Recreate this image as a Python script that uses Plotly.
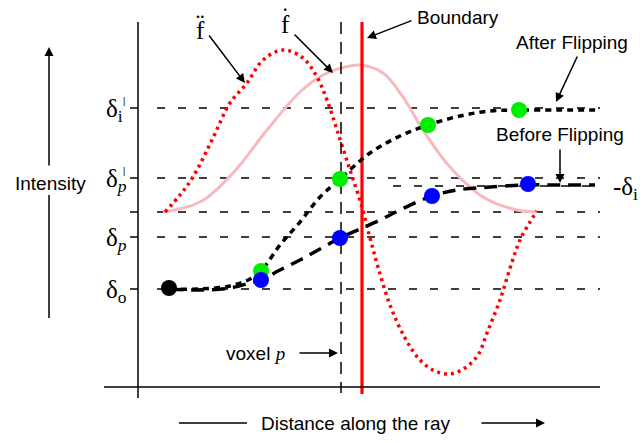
import plotly.graph_objects as go

# ---- data (x = distance along ray, y = intensity in picture units, y grows downward) ----
pink_x = [163, 200, 233, 267, 300, 323, 345, 360, 383, 403, 423, 450, 483, 517, 537]
pink_y = [212, 202, 173, 130, 92, 75, 67, 65, 73, 97, 130, 167, 197, 210, 212]

red_x = [165, 180, 193, 212, 230, 247, 263, 283, 303, 317, 327, 337, 350, 362, 370, 378, 390, 405,
         420, 435, 450, 465, 478, 487, 500, 512, 520, 530, 537]
red_y = [212, 195, 177, 140, 103, 83, 60, 50, 58, 77, 100, 130, 170, 207, 238, 267, 305, 338,
         360, 371, 374, 368, 355, 333, 300, 262, 240, 222, 211]

before_x = [170, 200, 230, 250, 261, 280, 300, 320, 340, 360, 380, 400, 432, 457, 490, 528, 560, 595]
before_y = [289, 290, 288, 283, 280, 270, 260, 249, 238, 229, 220, 210, 196, 190, 187, 185, 185, 185]

after_x = [170, 200, 230, 250, 261, 280, 300, 320, 340, 370, 400, 428, 460, 490, 519, 560, 600]
after_y = [289, 289, 286, 279, 271, 245, 222, 197, 179, 153, 136, 125, 116, 111, 110, 110, 110]

green_x = [261, 340, 428, 519]
green_y = [271, 179, 125, 110]
blue_x = [261, 340, 432, 528]
blue_y = [280, 238, 196, 184]
black_x = [169]
black_y = [288]

level_y = [108, 178, 212, 237, 289]
level_labels = ["δ<sub>i</sub>", "δ<sub><i>p</i></sub>", "", "δ<sub><i>p</i></sub>", "δ<sub>o</sub>"]
level_primed = [True, True, False, False, False]
delta_i_y = 186

voxel_x = 341
boundary_x = 362

SANS = "Liberation Sans"
SERIF = "Liberation Serif"

fig = go.Figure()

# horizontal dashed guide lines
for ly in level_y:
    fig.add_trace(go.Scatter(x=[157, 600], y=[ly, ly], mode="lines",
                             line=dict(color="black", width=1.3, dash="8px,13px"), hoverinfo="skip"))
fig.add_trace(go.Scatter(x=[393, 600], y=[delta_i_y, delta_i_y], mode="lines",
                         line=dict(color="black", width=1.3, dash="8px,13px"), hoverinfo="skip"))

# ticks on intensity axis
for ly in level_y:
    fig.add_trace(go.Scatter(x=[130, 138], y=[ly, ly], mode="lines",
                             line=dict(color="black", width=1.5), hoverinfo="skip"))

# first derivative (pink) and second derivative (red dotted)
fig.add_trace(go.Scatter(x=pink_x, y=pink_y, mode="lines", line=dict(color="#f8b9bb", width=3, shape="spline"),
                         hoverinfo="skip"))
fig.add_trace(go.Scatter(x=red_x, y=red_y, mode="lines",
                         line=dict(color="#ff0000", width=3.5, dash="3px,4px", shape="spline"), hoverinfo="skip"))

# voxel p dashed vertical and boundary line
fig.add_trace(go.Scatter(x=[voxel_x, voxel_x], y=[22, 393], mode="lines",
                         line=dict(color="black", width=1.5, dash="12px,8px"), hoverinfo="skip"))
fig.add_trace(go.Scatter(x=[boundary_x, boundary_x], y=[22, 394], mode="lines",
                         line=dict(color="#ff0000", width=3.2), hoverinfo="skip"))

# before / after flipping profiles
fig.add_trace(go.Scatter(x=before_x, y=before_y, mode="lines",
                         line=dict(color="black", width=3.5, dash="13px,8px", shape="spline"), hoverinfo="skip"))
fig.add_trace(go.Scatter(x=after_x, y=after_y, mode="lines",
                         line=dict(color="black", width=3.5, dash="6px,5px", shape="spline"), hoverinfo="skip"))

# sample dots
fig.add_trace(go.Scatter(x=green_x, y=green_y, mode="markers", marker=dict(color="#00ee00", size=16), hoverinfo="skip"))
fig.add_trace(go.Scatter(x=blue_x, y=blue_y, mode="markers", marker=dict(color="#0000ff", size=16), hoverinfo="skip"))
fig.add_trace(go.Scatter(x=black_x, y=black_y, mode="markers", marker=dict(color="black", size=16), hoverinfo="skip"))

# axes lines
shapes = [
    dict(type="line", xref="x", yref="y", x0=138, x1=138, y0=22, y1=398, line=dict(color="black", width=1.5)),
    dict(type="line", xref="x", yref="y", x0=104, x1=600, y0=387, y1=387, line=dict(color="black", width=1.5)),
    dict(type="line", xref="x", yref="y", x0=49, x1=49, y0=318, y1=195, line=dict(color="black", width=1.5)),
    dict(type="line", xref="x", yref="y", x0=179, x1=247, y0=423, y1=423, line=dict(color="black", width=1.5)),
]

ann = []


def arrow(tx, ty, hx, hy):
    ann.append(dict(x=hx, y=hy, ax=tx, ay=ty, xref="x", yref="y", axref="x", ayref="y", text="",
                    showarrow=True, arrowhead=2, arrowsize=1.2, arrowwidth=1.5, arrowcolor="black",
                    standoff=0, startstandoff=0))


def text(x, y, s, size=19, family=SANS, xanchor="center"):
    ann.append(dict(x=x, y=y, xref="x", yref="y", text=s, showarrow=False, xanchor=xanchor, yanchor="middle",
                    font=dict(family=family, size=size, color="black")))


# arrows
arrow(49, 167, 49, 47)          # intensity
arrow(480, 423, 545, 423)       # distance
arrow(298, 353, 338, 353)       # voxel p
arrow(413, 20, 367, 38)         # boundary
arrow(578, 55, 556, 102)        # after flipping
arrow(560, 148, 560, 183)       # before flipping
arrow(208, 34, 245, 83)         # f double dot
arrow(293, 33, 333, 73)         # f dot

# texts
text(50, 183, "Intensity")
text(356, 423, "Distance along the ray")
text(255, 353, "voxel <i><span style='font-family:Liberation Serif'>p</span></i>")
text(458, 17, "Boundary")
text(572, 42, "After Flipping")
text(560, 134, "Before Flipping")

# f labels
text(200, 30, "f", size=25, family=SERIF)
text(200, 23, "¨", size=25, family=SERIF)
text(285, 24, "f", size=25, family=SERIF)
text(285, 16, "˙", size=25, family=SERIF)

# delta labels
for ly, lab, primed in zip(level_y, level_labels, level_primed):
    if lab:
        ann.append(dict(x=104, y=ly + 2, xref="x", yref="y", text=lab, showarrow=False, xanchor="left",
                        yanchor="middle", font=dict(family=SERIF, size=25, color="black")))
    if primed:
        ann.append(dict(x=124, y=ly - 7, xref="x", yref="y", text="|", showarrow=False, xanchor="center",
                        yanchor="middle", font=dict(family=SANS, size=9, color="black")))

ann.append(dict(x=611, y=delta_i_y + 2, xref="x", yref="y", text="-δ<sub>i</sub>", showarrow=False,
                xanchor="left", yanchor="middle", font=dict(family=SERIF, size=25, color="black")))

fig.update_layout(
    width=642, height=443, margin=dict(l=0, r=0, t=0, b=0),
    paper_bgcolor="white", plot_bgcolor="white", showlegend=False,
    xaxis=dict(range=[0, 642], visible=False, fixedrange=True),
    yaxis=dict(range=[443, 0], visible=False, fixedrange=True),
    shapes=shapes, annotations=ann,
)

fig.write_html("out.html")
